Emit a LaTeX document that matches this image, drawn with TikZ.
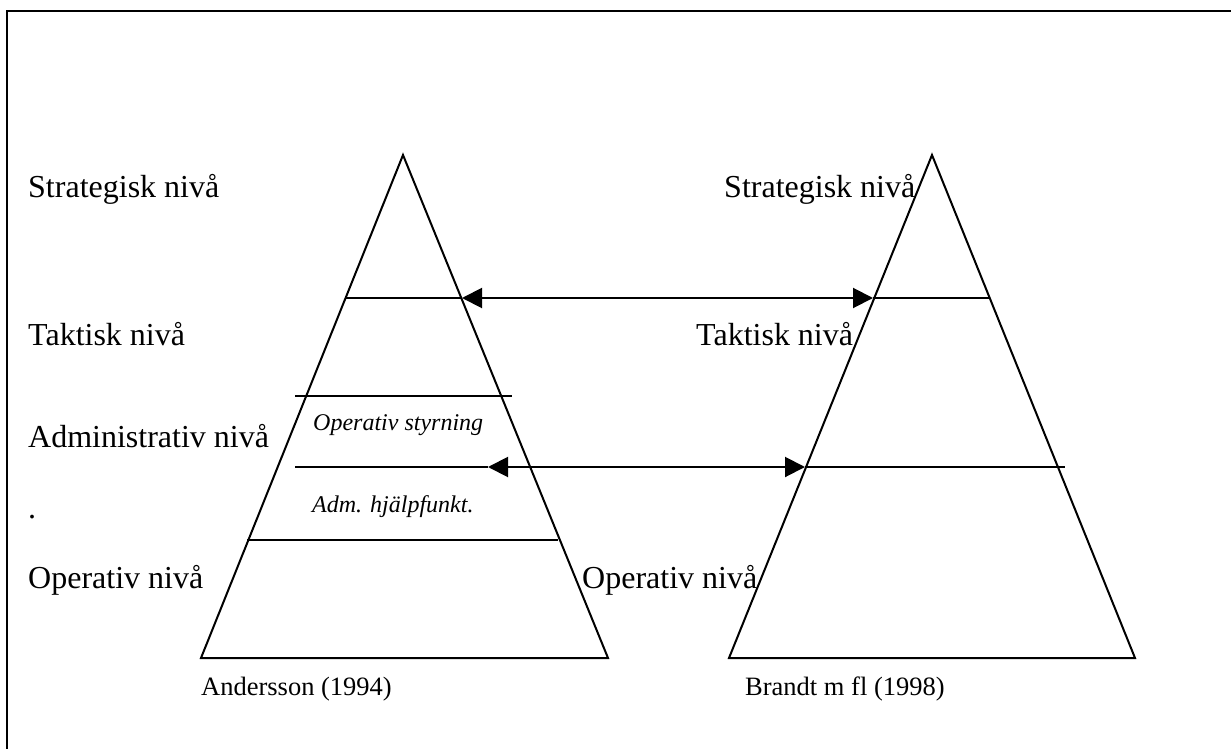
\documentclass[tikz,border=0pt]{standalone}
\usepackage{fontspec}
\setmainfont{Liberation Serif}
\usetikzlibrary{arrows.meta}
\begin{document}
\begin{tikzpicture}[x=1pt,y=-1pt,
  line/.style={line width=2pt},
  biarrow/.style={line width=2pt,{Triangle[length=20pt,width=20pt]}-{Triangle[length=20pt,width=20pt]}},
  level/.style={anchor=base west,inner sep=0pt,font=\fontsize{32}{36}\selectfont},
  sublevel/.style={anchor=base west,inner sep=0pt,font=\fontsize{24}{28}\selectfont\itshape},
  source/.style={anchor=base west,inner sep=0pt,font=\fontsize{26.5}{30}\selectfont}]
\useasboundingbox (0,0) rectangle (1231,749);

% frame (top and left edges)
\draw[line] (7,749) -- (7,11) -- (1231,11);

% left pyramid
\coordinate (LA) at (403,155);
\coordinate (LL) at (201,658);
\coordinate (LR) at (608,658);
\draw[line,line join=miter] (LA) -- (LL) -- (LR) -- cycle;

% right pyramid
\coordinate (RA) at (932,155);
\coordinate (RL) at (729,658);
\coordinate (RR) at (1135,658);
\draw[line,line join=miter] (RA) -- (RL) -- (RR) -- cycle;

% level lines
\coordinate (l1a) at (345,298);
\coordinate (l1b) at (462,298);
\coordinate (r1a) at (873,298);
\coordinate (r1b) at (990,298);
\coordinate (l2a) at (295,396);
\coordinate (l2b) at (512,396);
\coordinate (l3a) at (295,467);
\coordinate (l3b) at (488,467);
\coordinate (r3a) at (805,467);
\coordinate (r3b) at (1065,467);
\coordinate (l4a) at (247,540);
\coordinate (l4b) at (558,540);

\draw[line] (l1a) -- (l1b);
\draw[line] (r1a) -- (r1b);
\draw[line] (l2a) -- (l2b);
\draw[line] (l3a) -- (l3b);
\draw[line] (r3a) -- (r3b);
\draw[line] (l4a) -- (l4b);

% correspondences between the two models
\draw[biarrow] (l1b) -- (r1a);
\draw[biarrow] (l3b) -- (r3a);

% level labels, left model
\node[level] (ls) at (28,197) {Strategisk nivå};
\node[level] (lt) at (28,345) {Taktisk nivå};
\node[level] (lad) at (28,447) {Administrativ nivå};
\node[level] (ldot) at (28,518) {.};
\node[level] (lo) at (28,588) {Operativ nivå};

\node[sublevel] (os) at (313,430) {Operativ styrning};
\node[sublevel] (ah) at (312,512) {Adm. hjälpfunkt.};

% level labels, right model
\node[level] (rs) at (724,197) {Strategisk nivå};
\node[level] (rt) at (696,345) {Taktisk nivå};
\node[level] (ro) at (582,588) {Operativ nivå};

% sources
\node[source] (srcA) at (201,695) {Andersson (1994)};
\node[source] (srcB) at (745,695) {Brandt m fl (1998)};
\end{tikzpicture}
\end{document}
